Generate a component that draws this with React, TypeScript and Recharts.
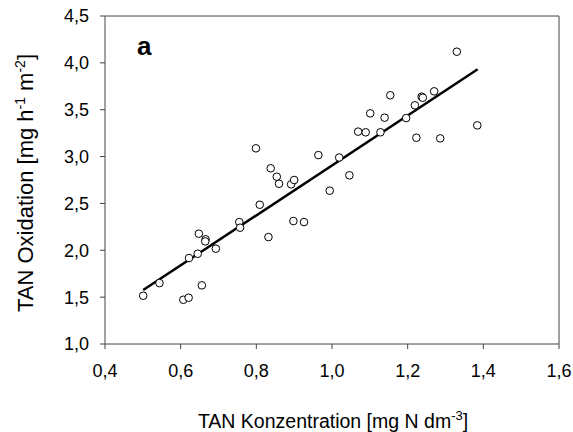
import React from "react";
import {
  ScatterChart,
  Scatter,
  XAxis,
  YAxis,
  ReferenceLine,
  Customized,
} from "recharts";

// measured TAN concentration (x) and oxidation rate (y)
const tanConc = [
  0.501, 0.544, 0.607, 0.621, 0.656, 0.622, 0.645, 0.648, 0.666, 0.665,
  0.693, 0.755, 0.757, 0.809, 0.832, 0.898, 0.926, 0.799, 0.838, 0.854,
  0.86, 0.892, 0.9, 0.964, 0.994, 1.019, 1.046, 1.069, 1.089, 1.101,
  1.128, 1.139, 1.154, 1.196, 1.219, 1.223, 1.237, 1.24, 1.27, 1.286,
  1.33, 1.384,
];
const tanOx = [
  1.515, 1.65, 1.472, 1.494, 1.626, 1.917, 1.963, 2.177, 2.117, 2.095,
  2.017, 2.301, 2.241, 2.486, 2.141, 2.312, 2.301, 3.088, 2.875, 2.785,
  2.71, 2.704, 2.75, 3.016, 2.636, 2.99, 2.8, 3.266, 3.259, 3.461,
  3.259, 3.415, 3.654, 3.411, 3.547, 3.201, 3.639, 3.628, 3.696, 3.194,
  4.119, 3.333,
];

// regression line end points
const fitX = [0.501, 1.385];
const fitY = [1.576, 3.931];

const xTicks = [0.4, 0.6, 0.8, 1.0, 1.2, 1.4, 1.6];
const yTicks = [1.0, 1.5, 2.0, 2.5, 3.0, 3.5, 4.0, 4.5];

const points = tanConc.map((x, i) => ({ x, y: tanOx[i] }));

const FONT = '"Liberation Sans", Arial, sans-serif';
const AXIS = "#444";
const fmt = (v: number) => v.toFixed(1).replace(".", ",");

const Dot = (props: any) => (
  <circle cx={props.cx} cy={props.cy} r={3.8} fill="#fff" stroke="#000" strokeWidth={1} />
);

const Titles = () => (
  <g fontFamily={FONT} fill="#000">
    <text x={137} y={55} fontSize={26} fontWeight="bold">
      a
    </text>
    <text x={333} y={428} fontSize={19.5} textAnchor="middle">
      TAN Konzentration [mg N dm
      <tspan dy={-8} fontSize={13}>-3</tspan>
      <tspan dy={8}>]</tspan>
    </text>
    <text
      x={0}
      y={0}
      fontSize={22}
      textAnchor="middle"
      transform="translate(33,183) rotate(-90)"
    >
      TAN Oxidation [mg h
      <tspan dy={-8} fontSize={14}>-1</tspan>
      <tspan dy={8}> m</tspan>
      <tspan dy={-8} fontSize={14}>-2</tspan>
      <tspan dy={8}>]</tspan>
    </text>
  </g>
);

export default function App() {
  return (
    <>
      <style>{"body{margin:0;overflow:hidden}"}</style>
      <ScatterChart
        width={573}
        height={432}
        margin={{ top: 16, right: 14, bottom: 0, left: 8 }}
      >
        <XAxis
          type="number"
          dataKey="x"
          domain={[0.4, 1.6]}
          ticks={xTicks}
          tickFormatter={fmt}
          height={88}
          tickSize={5}
          tickMargin={15}
          stroke={AXIS}
          tick={{ fill: "#000", fontSize: 18, fontFamily: FONT }}
          allowDataOverflow
        />
        <YAxis
          type="number"
          dataKey="y"
          domain={[1, 4.5]}
          ticks={yTicks}
          tickFormatter={fmt}
          width={97}
          tickSize={5}
          tickMargin={11}
          stroke={AXIS}
          tick={{ fill: "#000", fontSize: 18, fontFamily: FONT }}
          allowDataOverflow
        />
        <ReferenceLine y={4.5} stroke={AXIS} strokeWidth={1} />
        <ReferenceLine x={1.6} stroke={AXIS} strokeWidth={1} />
        <ReferenceLine
          segment={[
            { x: fitX[0], y: fitY[0] },
            { x: fitX[1], y: fitY[1] },
          ]}
          stroke="#000"
          strokeWidth={2.5}
        />
        <Scatter data={points} shape={Dot} isAnimationActive={false} />
        <Customized component={Titles} />
      </ScatterChart>
    </>
  );
}
